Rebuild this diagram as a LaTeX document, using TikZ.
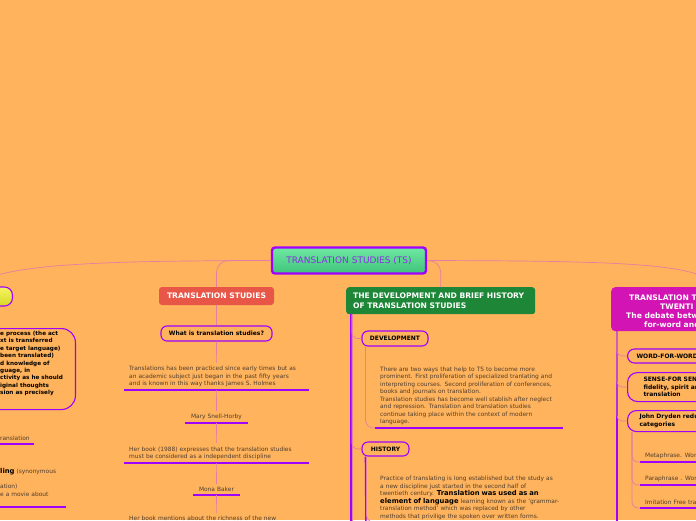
\documentclass[tikz,border=0pt]{standalone}
\usepackage{fontspec}
\setmainfont{DejaVu Sans}
\definecolor{bgorange}{RGB}{255,179,92}
\definecolor{mmpurple}{RGB}{160,0,255}
\definecolor{mmpink}{RGB}{230,125,165}
\definecolor{mmred}{RGB}{232,86,72}
\definecolor{mmgreen}{RGB}{30,135,55}
\definecolor{mmmagenta}{RGB}{210,20,180}
\definecolor{mmtext}{RGB}{80,62,45}
\definecolor{roottext}{RGB}{140,45,230}
\definecolor{tsgreentop}{RGB}{112,232,162}
\definecolor{tsgreenbot}{RGB}{62,196,122}
\definecolor{yellowtop}{RGB}{245,245,95}
\definecolor{yellowbot}{RGB}{215,215,40}
\newcommand\keyterm[1]{{\bfseries\color{black}\fontsize{6.8}{7.5}\selectfont #1}}
\begin{document}
\begin{tikzpicture}[
    x=1pt, y=-1pt,
    link/.style={draw=mmpink, line width=0.7pt},
    stem/.style={draw=mmpurple, line width=1.5pt},
    uline/.style={draw=mmpurple, line width=2.4pt},
    rootbox/.style={draw=mmpurple, line width=2.4pt, rounded corners=3pt, top color=tsgreentop, bottom color=tsgreenbot, text=roottext, font=\fontsize{9}{11}\selectfont, minimum width=154pt, minimum height=26pt},
    mainbox/.style={rounded corners=3pt, text=white, font=\bfseries\fontsize{7.6}{9.3}\selectfont, inner sep=0pt},
    titletext/.style={anchor=west, inner sep=0pt, text=white, font=\bfseries\fontsize{7.6}{9.3}\selectfont},
    subbox/.style={draw=mmpurple, line width=1.1pt, font=\bfseries\fontsize{6}{7.5}\selectfont, text=black, inner sep=0pt},
    topic/.style={font=\fontsize{5.9}{7.5}\selectfont, text=mmtext, align=left, inner xsep=5pt, inner ysep=3pt},
]
\useasboundingbox (0,0) rectangle (696,520);
\fill[bgorange] (0,0) rectangle (696,520);

\node[rootbox] (ts) at (349,260.5) {TRANSLATION STUDIES (TS)};

\node[subbox, rounded corners=8pt, top color=yellowtop, bottom color=yellowbot, minimum width=80pt, minimum height=19pt, anchor=east] (process) at (13,296.5) {};
\node[subbox, rounded corners=14pt, minimum width=200pt, minimum height=81pt, anchor=north east] (definition) at (76,328) {};
\node[font=\bfseries\fontsize{5.7}{7.4}\selectfont, align=left, inner sep=0pt, anchor=north west] (definitiontext) at (0,331) {e process (the act\\xt is transferred\\e target language)\\been translated)\\d knowledge of\\guage, in\\ctivity as he should\\iginal thoughts\\sion as precisely};
\node[topic, text width=34pt, inner xsep=0pt, anchor=south west] (equivalent) at (0,444) {ranslation};
\draw[uline] (equivalent.south west) -- (equivalent.south east);
\node[topic, text width=66pt, inner xsep=0pt, anchor=south west] (rewording) at (0,507) {\keyterm{ling} (synonymous\\\mbox{}\\ation)\\e a movie about\\\mbox{}};
\draw[uline] (rewording.south west) -- (rewording.south east);
\draw[link] (ts.west) .. controls (120,261) and (0,262) .. (process.north);

\node[mainbox, fill=mmred, minimum width=115pt, minimum height=18pt] (tstudies) at (216.5,296) {TRANSLATION STUDIES};
\node[subbox, rounded corners=6pt, minimum width=111pt, minimum height=15pt] (whatis) at (216.5,333.5) {What is translation studies?};
\node[topic, text width=175pt, anchor=south west] (practice) at (124,390) {Translations has been practiced since early times but as\\an academic subject just began in the past fifty years\\and is known in this way thanks James S. Holmes};
\draw[uline] (practice.south west) -- (practice.south east);
\node[topic, text width=58pt, inner xsep=2pt, align=center, anchor=south] (snell) at (216.5,423) {Mary Snell-Horby};
\draw[uline] (snell.south west) -- (snell.south east);
\node[topic, text width=175pt, anchor=south west] (discipline) at (124,463) {Her book (1988) expresses that the translation studies\\must be considered as a independent discipline};
\draw[uline] (discipline.south west) -- (discipline.south east);
\node[topic, text width=40pt, inner xsep=3pt, align=center, anchor=south] (baker) at (216.5,495) {Mona Baker};
\draw[uline] (baker.south west) -- (baker.south east);
\node[topic, text width=175pt, anchor=north west] (richness) at (124,513) {Her book mentions about the richness of the new};
\draw[link, rounded corners=12pt] (ts.west) -| (tstudies.north);
\draw[link] (tstudies) -- (whatis);
\draw[link] (whatis) -- (practice);
\draw[link] (practice) -- (snell);
\draw[link] (snell) -- (discipline);
\draw[link] (discipline) -- (baker);
\draw[link] (baker) -- (richness);

\node[mainbox, fill=mmgreen, text width=175pt, inner xsep=7pt, align=left, minimum height=27pt, anchor=north west] (development) at (346,287) {THE DEVELOPMENT AND BRIEF HISTORY\\OF TRANSLATION STUDIES};
\draw[link, rounded corners=12pt] (ts.east) -| (development.north);
\coordinate (devstemend) at (351,530);
\coordinate (devlinkend) at (352,530);
\draw[stem] ([xshift=5pt]development.south west) -- (devstemend);
\node[subbox, rounded corners=6pt, minimum width=66pt, minimum height=15pt] (devbox) at (395,338.5) {DEVELOPMENT};
\node[subbox, rounded corners=6pt, minimum width=47pt, minimum height=14pt] (histbox) at (385.5,449) {HISTORY};
\draw[link, rounded corners=6pt] ([xshift=6pt]development.south west) |- (devbox.west);
\draw[link, rounded corners=6pt] ([xshift=6pt]development.south west) |- (histbox.west);
\draw[link] ([xshift=6pt]development.south west) -- (devlinkend);
\node[topic, text width=178pt, anchor=south west] (twoways) at (375,428) {There are two ways that help to TS to become more\\prominent. First proliferation of specialized tranlating and\\interpreting courses. Second proliferation of conferences,\\books and journals on translation.\\Translation studies has become well stablish after neglect\\and repression. Translation and translation studies\\continue taking place within the context of modern\\language.};
\draw[uline] (twoways.south west) -- (twoways.south east);
\draw[link, rounded corners=8pt] ([xshift=4pt]devbox.south west) |- (twoways.south west);
\node[topic, text width=190pt, anchor=north west] (grammar) at (375,473) {Practice of translating is long established but the study as\\a new discipline just started in the second half of\\twentieth century. \keyterm{Translation was used as an}\\\keyterm{element of language} learning known as the `grammar-\\translation method' which was replaced by other\\methods that privilige the spoken over written forms.};
\coordinate (histstemend) at (366,530);
\draw[stem] ([xshift=4pt]histbox.south west) -- (histstemend);
\draw[link, rounded corners=8pt] ([xshift=5pt]histbox.south west) |- (grammar.south west);

\node[mainbox, fill=mmmagenta, rounded corners=4pt, minimum width=200pt, minimum height=44pt, anchor=north west] (theory) at (611,287) {};
\node[titletext] (theoryA) at (629,297.5) {TRANSLATION T};
\node[titletext] (theoryB) at (660,306.5) {TWENTI};
\node[titletext] (theoryC) at (626,315.5) {The debate betw};
\node[titletext] (theoryD) at (644,324.5) {for-word and};
\draw[link] (ts.east) .. controls (600,261) and (711,262) .. (theory.north);
\coordinate (theorystemend) at (617,530);
\draw[stem] ([xshift=6pt]theory.south west) -- (theorystemend);
\node[subbox, rounded corners=7pt, text width=80pt, align=left, inner xsep=9pt, minimum height=14pt, anchor=west] (wordbox) at (627,356) {WORD-FOR-WORD};
\node[subbox, rounded corners=10pt, text width=80pt, align=left, inner xsep=16pt, minimum height=29pt, anchor=north west] (sensebox) at (627,372) {SENSE-FOR SEN\\fidelity, spirit ar\\translation};
\node[subbox, rounded corners=9pt, text width=80pt, align=left, inner xsep=12pt, minimum height=21pt, anchor=north west] (drydenbox) at (627,410) {John Dryden redu\\categories};
\draw[link, rounded corners=5pt] ([xshift=6pt]theory.south west) |- (wordbox.west);
\draw[link, rounded corners=5pt] ([xshift=6pt]theory.south west) |- (sensebox.west);
\draw[link, rounded corners=5pt] ([xshift=6pt]theory.south west) |- (drydenbox.west);
\node[topic, text width=60pt, anchor=south west] (metaphrase) at (640,462) {Metaphrase. Wor};
\draw[uline] (metaphrase.south west) -- (metaphrase.south east);
\node[topic, text width=60pt, anchor=south west] (paraphrase) at (640,485) {Paraphrase . Wor};
\draw[uline] (paraphrase.south west) -- (paraphrase.south east);
\node[topic, text width=60pt, anchor=south west] (imitation) at (640,508) {Imitation Free tra};
\draw[uline] (imitation.south west) -- (imitation.south east);
\draw[link, rounded corners=6pt] ([xshift=5pt]drydenbox.south west) |- (metaphrase.south west);
\draw[link, rounded corners=6pt] ([xshift=5pt]drydenbox.south west) |- (paraphrase.south west);
\draw[link, rounded corners=6pt] ([xshift=5pt]drydenbox.south west) |- (imitation.south west);
\end{tikzpicture}
\end{document}
